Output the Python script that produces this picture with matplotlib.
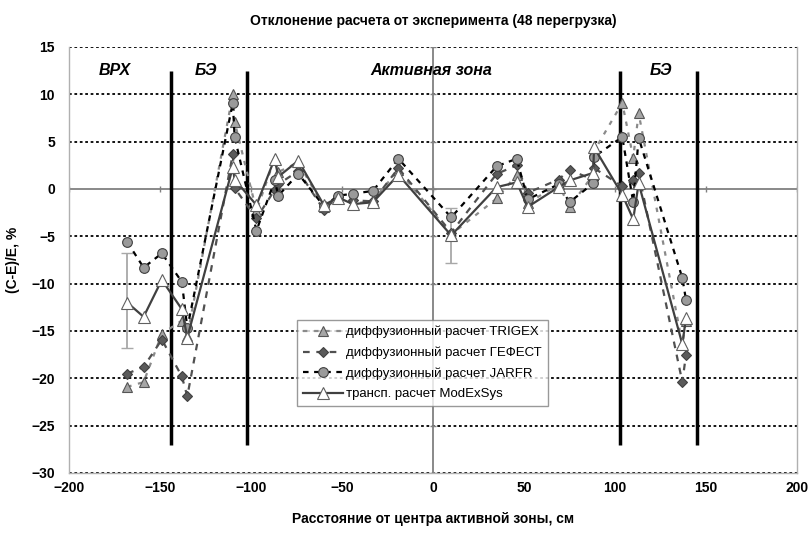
import matplotlib
matplotlib.use("Agg")
import matplotlib.pyplot as plt
import numpy as np

plt.rcParams['font.family'] = ['Liberation Sans', 'DejaVu Sans']

x_pos = [-168, -159, -149, -138, -135, -110, -109, -97, -87, -85, -74, -60, -52, -44, -33, -19,
         10, 35, 46, 52, 69, 75, 88, 88.5, 104, 110, 113, 137, 139]

trigex = [-20.9, -20.4, -15.3, -13.9, -15.5, 10.0, 7.1, -2.3, 3.2, 1.8, 2.8, -1.9, -1.0, -1.6, -1.2, 2.0,
          -4.8, -1.0, 1.5, -1.5, 0.5, -1.9, 1.5, 4.0, 9.1, 3.3, 8.0, -16.4, -13.9]
gefest = [-19.5, -18.8, -15.9, -19.8, -21.9, 3.7, 0.1, -3.1, -0.1, 0.5, 1.9, -2.2, -0.8, -1.2, -1.3, 2.2,
          -4.6, 1.6, 2.5, -0.4, 1.0, 2.0, 1.0, 2.2, 0.3, 0.9, 1.7, -20.4, -17.5]
jarfr = [-5.6, -8.3, -6.8, -9.8, -14.7, 9.1, 5.5, -4.4, 0.9, -0.7, 1.6, -1.8, -0.7, -0.5, -0.2, 3.2,
         -3.0, 2.4, 3.2, -1.1, 0.5, -1.4, 0.6, 3.4, 5.5, -1.4, 5.4, -9.4, -11.7]
transp = [-12.0, -13.5, -9.6, -12.7, -15.7, 2.3, 1.0, -1.7, 3.2, 1.3, 3.0, -1.7, -0.9, -1.6, -1.4, 1.5,
          -4.9, 0.2, 0.7, -1.9, 0.2, 0.9, 1.7, 4.4, -0.6, -3.2, 0.6, -16.4, -13.6]

err_x = [-168, 10]
err_y = [-11.8, -4.9]
err_v = [5.0, 2.9]

zone_bounds = [-144, -102, 103, 145]
zone_labels = ['ВРХ', 'БЭ', 'Активная зона', 'БЭ']
zone_label_x = [-175, -125, -1, 125]

labels = ['диффузионный расчет TRIGEX', 'диффузионный расчет ГЕФЕСТ',
          'диффузионный расчет JARFR', 'трансп. расчет ModExSys']

xticks = [-200, -150, -100, -50, 0, 50, 100, 150, 200]
yticks = [-30, -25, -20, -15, -10, -5, 0, 5, 10, 15]

L, R, T, B = 69, 797, 47, 473
fig = plt.figure(figsize=(8.1, 5.42), dpi=100)
ax = fig.add_axes([L/810, 1-B/542, (R-L)/810, (B-T)/542])
ax.set_xlim(-200, 200)
ax.set_ylim(-30, 15)

# grid lines
for yv in yticks:
    if yv == 0:
        continue
    ax.axhline(yv, color='black', lw=1.3, ls=(0, (1.5, 1.5)), zorder=1)
ax.axhline(0, color='#808080', lw=1.3, zorder=1)
ax.axvline(0, color='#808080', lw=1.3, zorder=1)
ax.plot(xticks, [0]*len(xticks), ls='none', marker='|', ms=5, color='#808080', zorder=1)
ax.plot([0]*len(yticks), yticks, ls='none', marker='_', ms=5, color='#808080', zorder=1)

for s in ax.spines.values():
    s.set_color('#b0b0b0')
    s.set_linewidth(1.0)
ax.spines['top'].set_visible(False)

ax.vlines(zone_bounds, -27, 12.5, colors='black', lw=2.5, zorder=2)

ax.errorbar(err_x, err_y, yerr=err_v, fmt='none', ecolor='#a8a8a8', elinewidth=1.3, capsize=4, zorder=3)

ax.plot(x_pos, trigex, color='#8a8a8a', lw=1.6, ls=(0, (2, 3)), marker='^', ms=7,
        mfc='#a6a6a6', mec='#555555', mew=0.8, label=labels[0], zorder=4)
ax.plot(x_pos, gefest, color='#505050', lw=1.6, ls=(0, (3, 3)), marker='D', ms=5.5,
        mfc='#5a5a5a', mec='#404040', mew=0.8, label=labels[1], zorder=5)
ax.plot(x_pos, jarfr, color='black', lw=1.6, ls=(0, (2.5, 2.5)), marker='o', ms=7,
        mfc='#9a9a9a', mec='#404040', mew=0.8, label=labels[2], zorder=6)
ax.plot(x_pos, transp, color='#404040', lw=1.6, ls='-', marker='^', ms=8,
        mfc='white', mec='#606060', mew=0.8, label=labels[3], zorder=7)

for lx, lt in zip(zone_label_x, zone_labels):
    ax.text(lx, 12.5, lt, ha='center', va='center', fontsize=11.5, fontweight='bold',
            fontstyle='italic')

ax.set_xticks(xticks)
ax.set_yticks(yticks)
ax.tick_params(axis='x', length=0, labelsize=10, pad=6)
ax.tick_params(axis='y', length=0, labelsize=10, pad=10)
for t in ax.get_xticklabels() + ax.get_yticklabels():
    t.set_fontweight('bold')

ax.set_xlabel('Расстояние от центра активной зоны, см', fontsize=10, fontweight='bold', labelpad=12)
ax.set_ylabel('(C-E)/E, %', fontsize=10, fontweight='bold', labelpad=8)
fig.suptitle('Отклонение расчета от эксперимента (48 перегрузка)', x=(L+R)/2/810, y=0.975,
             fontsize=10, fontweight='bold')

leg = ax.legend(loc='upper left', bbox_to_anchor=((297-L)/(R-L), (B-320)/(B-T)),
                borderaxespad=0, fontsize=9.5, frameon=True, fancybox=False, edgecolor='#808080',
                handlelength=3.0, labelspacing=0.62, borderpad=0.45, handletextpad=0.3)
leg.get_frame().set_linewidth(1.0)

fig.savefig('out.png', dpi=100)
